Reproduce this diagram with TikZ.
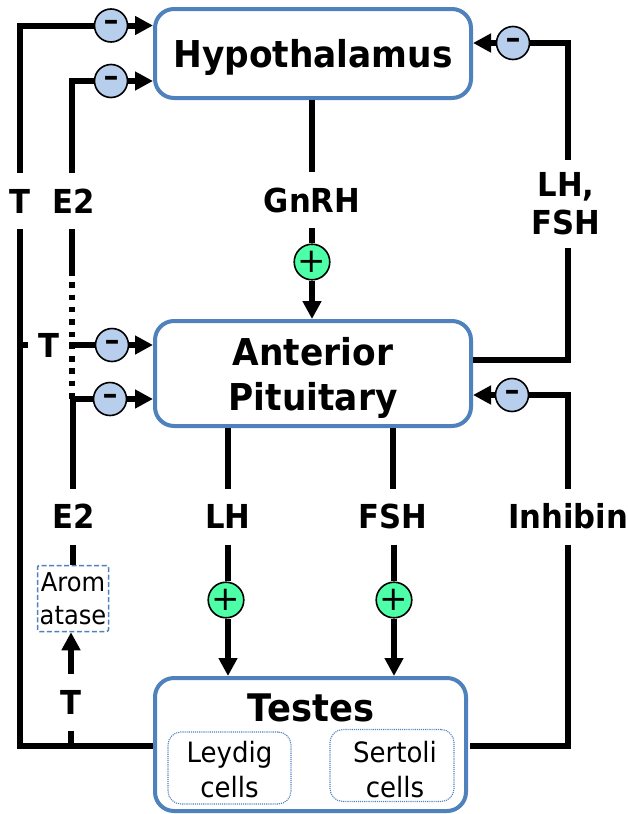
\documentclass[tikz,border=0pt]{standalone}
\usepackage{fontspec}
\usetikzlibrary{arrows.meta}
\setmainfont{DejaVu Sans}
\newfontfamily\lab[FakeStretch=0.93]{DejaVu Sans}
\definecolor{boxblue}{HTML}{4F81BD}
\definecolor{minusfill}{HTML}{B7CFEC}
\definecolor{plusfill}{HTML}{4DFFA6}
\tikzset{
  x=1pt,y=-1pt,
  mainbox/.style={draw=boxblue,line width=4pt,rounded corners=19pt,fill=white,inner sep=0pt,align=center},
  title/.style={font=\lab\fontsize{37}{45}\selectfont\bfseries,inner sep=0pt,align=center},
  hormone/.style={font=\lab\fontsize{33}{38}\selectfont\bfseries,inner sep=0pt,outer sep=0pt,align=center,minimum height=56pt},
  subbox/.style={draw=boxblue,line width=1.1pt,densely dotted,rounded corners=13pt,inner sep=0pt,align=center,font=\lab\fontsize{28}{35}\selectfont,text=black},
  enzbox/.style={draw=boxblue,line width=1.5pt,dash pattern=on 5pt off 2.5pt,rounded corners=2pt,fill=white,inner sep=0pt,align=center,font=\lab\fontsize{26}{33}\selectfont},
  minussign/.style={circle,draw=black,line width=1.6pt,fill=minusfill,minimum size=33pt,inner sep=0pt,font=\fontsize{30}{30}\selectfont\bfseries},
  plussign/.style={circle,draw=black,line width=1.6pt,fill=plusfill,minimum size=33pt,inner sep=0pt,font=\fontsize{34}{34}\selectfont},
  wire/.style={line width=6pt,black},
  arrowwire/.style={wire,-{Triangle[length=18pt,width=18pt]}},
  dotwire/.style={line width=6pt,black,dash pattern=on 5.5pt off 6.8pt},
}
\begin{document}
\begin{tikzpicture}
\useasboundingbox (0,0) rectangle (627,814);
% main boxes
\node[mainbox,title,draw=boxblue,minimum width=316pt,minimum height=89pt] (hyp) at (313,53.5) {\rule{0pt}{35pt}Hypothalamus};
\node[mainbox,title,draw=boxblue,minimum width=316pt,minimum height=105pt] (ant) at (313,373.5) {\rule{0pt}{37pt}Anterior\\Pituitary};
\node[mainbox,minimum width=311pt,minimum height=133pt] (tes) at (310.5,744.5) {};
\node[title,font=\lab\fontsize{38}{45}\selectfont\bfseries] (testitle) at (311,708) {Testes};
\node[subbox,minimum width=123pt,minimum height=72pt] (ley) at (229.5,768) {\rule{0pt}{25pt}Leydig\\cells};
\node[subbox,minimum width=124pt,minimum height=72pt] (ser) at (392,765.5) {\rule{0pt}{30pt}\kern6pt Sertoli\\\kern6pt cells};
% labels
\node[hormone] (tl) at (20,201) {T};
\node[hormone] (e2a) at (74,201) {E2};
\node[hormone] (gn) at (312,200) {GnRH};
\node[hormone,minimum height=88pt] (lf) at (566,204) {LH,\\FSH};
\node[hormone,minimum width=41pt] (t2) at (48.5,345) {T};
\node[hormone] (e2b) at (74,516.5) {E2};
\node[hormone] (lh) at (228,516.5) {LH};
\node[hormone] (fsh) at (393,516.5) {FSH};
\node[hormone] (inh) at (568,516.5) {Inhibin};
\node[hormone,minimum height=57pt] (t3) at (71,702) {T};
\node[enzbox,minimum width=71pt,minimum height=66pt] (arom) at (73,598.5) {Arom\\atase};
% signs
\node[minussign] (m1) at (111,25.5) {–};
\node[minussign] (m2) at (111,81) {–};
\node[minussign] (m3) at (112,345) {–};
\node[minussign] (m4) at (110,399) {–};
\node[minussign] (m5) at (513,43) {–};
\node[minussign] (m6) at (512,395) {–};
\node[plussign] (p1) at (312,262) {+};
\node[plussign] (p2) at (226,600) {+};
\node[plussign] (p3) at (394,600) {+};
% junctions
\coordinate (c2) at (72,81);
\coordinate (j2) at (20,345);
\coordinate (d1) at (72,270);
\coordinate (j1) at (72.5,399);
\coordinate (b1) at (20,746);
\coordinate (b2) at (71,746);
\coordinate (tw) at (153,746);
\coordinate (c6) at (568,360);
\coordinate (c8) at (568,746);
\coordinate (te) at (470,746);
\coordinate (ae) at (473,360);
% left T line
\draw[wire,line join=miter] (tl.north) -- (tl.north |- m1.west) -- (m1.west);
\draw[arrowwire] (m1.east) -- (m1.east -| hyp.west);
\draw[wire,line join=miter] (tl.south) -- (b1) -- (tw);
\draw[wire] (j2) -- (t2.west);
\draw[wire] (b2) -- (t3.south);
\draw[arrowwire] (t3.north) -- (t3.north |- arom.south);
% E2 line
\draw[wire,line join=miter] (e2a.north -| c2) -- (c2) -- (m2.west);
\draw[arrowwire] (m2.east) -- (m2.east -| hyp.west);
\draw[wire] (e2a.south -| d1) -- (d1);
\draw[dotwire] (d1) -- (j1 -| d1);
\draw[wire] (j1) -- (e2b.north -| j1);
\draw[wire] (j1) -- (m4.west);
\draw[arrowwire] (m4.east) -- (m4.east -| ant.west);
\draw[wire] (t2.east) -- (m3.west);
\draw[arrowwire] (m3.east) -- (m3.east -| ant.west);
\draw[wire] (e2b.south -| j1) -- (arom.north -| j1);
% centre
\draw[wire] (hyp.south -| gn) -- (gn.north);
\draw[wire] (gn.south) -- (p1.north);
\draw[arrowwire] (p1.south) -- (p1.south |- ant.north);
\draw[wire] (ant.south -| lh) -- (lh.north);
\draw[wire] (lh.south) -- (lh.south |- p2.north);
\draw[arrowwire] (lh.south |- p2.south) -- (lh.south |- tes.north);
\draw[wire] (ant.south -| fsh) -- (fsh.north);
\draw[wire] (fsh.south -| p3) -- (p3.north);
\draw[arrowwire] (p3.south) -- (tes.north -| p3.south);
% right
\draw[arrowwire] (m5.west) -- (m5.west -| hyp.east);
\draw[wire,line join=miter] (m5.east) -- (m5.east -| c6) -- (lf.north -| c6);
\draw[wire,line join=miter] (lf.south -| c6) -- (c6) -- (ae);
\draw[arrowwire] (m6.west) -- (m6.west -| ant.east);
\draw[wire,line join=miter] (m6.east) -- (m6.east -| c8) -- (inh.north -| c8);
\draw[wire,line join=miter] (inh.south -| c8) -- (c8) -- (te);
\end{tikzpicture}
\end{document}
